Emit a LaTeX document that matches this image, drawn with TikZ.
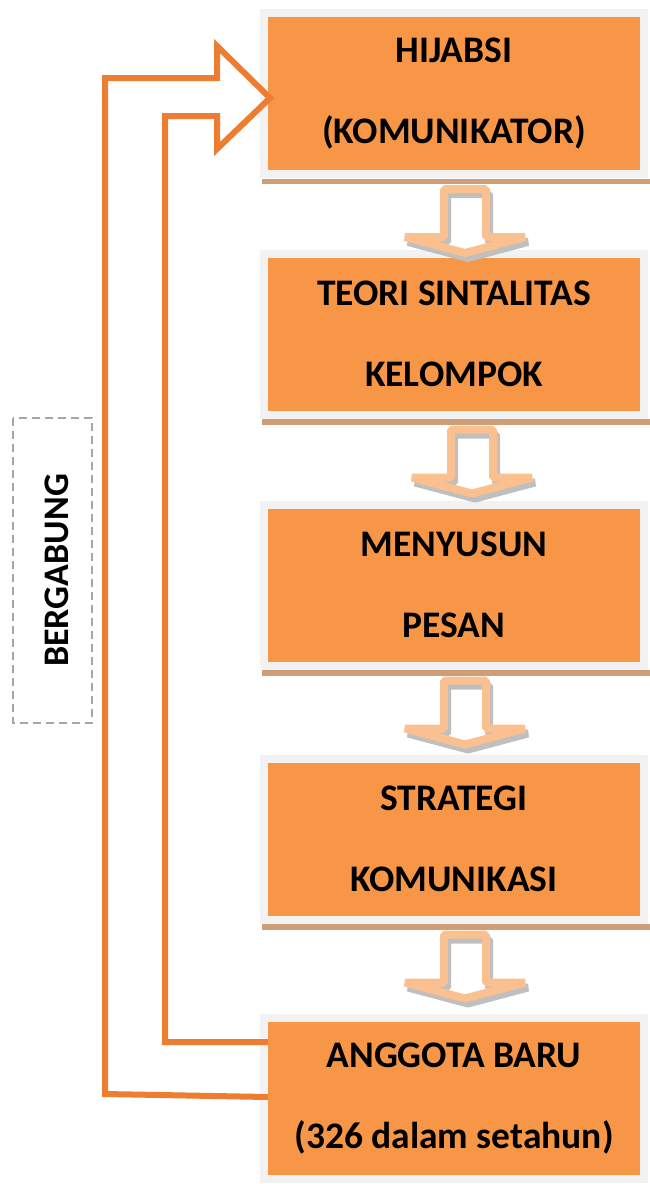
\documentclass[tikz,border=0pt]{standalone}
\usepackage{fontspec}
\setmainfont{Carlito}
\usetikzlibrary{calc}
\definecolor{boxorange}{RGB}{247,150,70}
\definecolor{framegray}{RGB}{242,242,242}
\definecolor{shadowbrown}{RGB}{205,158,120}
\definecolor{arrowpeach}{RGB}{250,192,144}
\definecolor{arrowshade}{RGB}{191,191,191}
\definecolor{looporange}{RGB}{237,125,49}
\definecolor{dashgray}{RGB}{166,166,166}
\begin{document}
\begin{tikzpicture}[x=1pt, y=-1pt,
    stepbox/.style={draw=framegray, line width=8pt, fill=boxorange, minimum width=380pt, minimum height=161pt, inner sep=0pt, outer sep=0pt, align=center, font=\fontsize{37.5}{81}\selectfont\bfseries},
    downarrow/.style={draw=arrowpeach, line width=8pt, line join=bevel},
    arrowshadow/.style={draw=arrowshade, line width=8pt, line join=bevel},
    loopline/.style={draw=looporange, line width=6pt, line join=miter},
    joinbox/.style={draw=dashgray, line width=2.5pt, dash pattern=on 8pt off 5pt, rotate=90, minimum width=305pt, minimum height=79pt, text height=32pt, font=\fontsize{36}{40}\selectfont\bfseries}]
    \useasboundingbox (0,0) rectangle (650,1184);
    \foreach \i/\y/\txt in {1/93.5/{HIJABSI\\(KOMUNIKATOR)}, 2/334/{TEORI SINTALITAS\\KELOMPOK}, 3/585/{MENYUSUN\\PESAN}, 4/839/{STRATEGI\\KOMUNIKASI}, 5/1098.5/{ANGGOTA BARU\\(326 dalam setahun)}}{
      \node[stepbox] (box\i) at (454,\y) {\txt};
      \fill[shadowbrown] ($(box\i.south west)+(-2,4.5)$) rectangle ($(box\i.south east)+(6,10)$);
    }
    \foreach \i/\dx in {1/11, 2/18, 3/11, 4/11}{
      \coordinate (top\i) at ($(box\i.south)+(\dx,15)$);
      \draw[arrowshadow] ($(top\i)+(-18,5)$) -- ++(0,48) -- ++(-39,0) -- ++(60,16) -- ++(60,-16) -- ++(-39,0) -- ++(0,-48) -- cycle;
      \draw[downarrow] ($(top\i)+(-21,0)$) -- ++(0,48) -- ++(-39,0) -- ++(60,16) -- ++(60,-16) -- ++(-39,0) -- ++(0,-48) -- cycle;
    }
    \coordinate (tip) at ($(box1.west)+(6,4.5)$);
    \draw[loopline] ($(box5.west)+(4,-1.5)$) -- (105,1094) -- (105,78) -- (217,78) -- (217,46) -- (tip) -- (217,149) -- (217,116) -- (165,116) -- (165,1042) -- ($(box5.west |- 0,1042)+(4,0)$);
    \node[joinbox] (join) at (52.5,570.5) {BERGABUNG};
\end{tikzpicture}
\end{document}
